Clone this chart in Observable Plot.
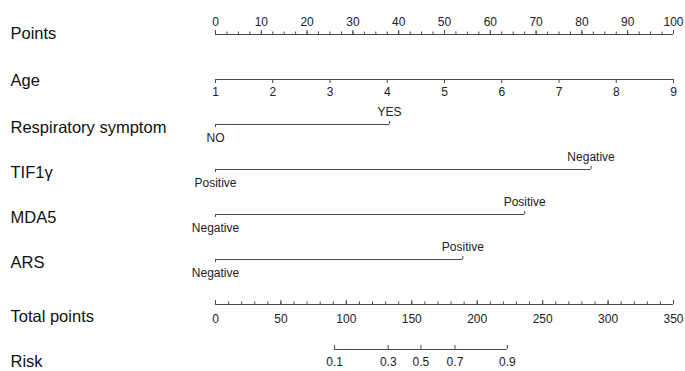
<!DOCTYPE html>
<html>
<head>
<meta charset="utf-8">
<script src="https://cdn.jsdelivr.net/npm/d3@7"></script>
<script src="https://cdn.jsdelivr.net/npm/@observablehq/plot@0.6"></script>
<style>
  html, body { margin: 0; padding: 0; background: #fff; }
  #chart { width: 685px; height: 371px; }
</style>
</head>
<body>
<div id="chart"></div>
<script>
// ---- data ----
const rows = ["Points", "Age", "Respiratory symptom", "TIF1γ", "MDA5", "ARS", "Total points", "Risk"];

const pointTicks = [0, 10, 20, 30, 40, 50, 60, 70, 80, 90, 100];
const pointMinorStep = 2.5;

const ageTicks = [1, 2, 3, 4, 5, 6, 7, 8, 9];
const ageDomain = [1, 9];

const factorNames = ["Respiratory symptom", "TIF1γ", "MDA5", "ARS"];
const lowLevels = ["NO", "Positive", "Negative", "Negative"];
const highLevels = ["YES", "Negative", "Positive", "Positive"];
const highPoints = [38, 82, 67.5, 54];

const totalTicks = [0, 50, 100, 150, 200, 250, 300, 350];
const totalMinorStep = 10;
const totalDomain = [0, 350];

const riskTicks = [0.1, 0.3, 0.5, 0.7, 0.9];
const riskTotalPoints = [91, 132, 157, 183, 223];

// ---- sub-scales onto the Points axis ----
const ageToPts = d3.scaleLinear().domain(ageDomain).range([0, 100]);
const totToPts = d3.scaleLinear().domain(totalDomain).range([0, 100]);

const lineColor = "#4a4a4a";
const textColor = "#222";
const font = "Liberation Sans, Arial, Helvetica, sans-serif";

// Points axis
const ptsLine = [{row: "Points", a: 0, b: 100}];
const ptsMinor = d3.range(0, 100 + 1e-9, pointMinorStep).map(v => ({row: "Points", x: v}));
const ptsMajor = pointTicks.map(v => ({row: "Points", x: v, label: String(v)}));

// Age axis
const ageLine = [{row: "Age", a: ageToPts(ageDomain[0]), b: ageToPts(ageDomain[1])}];
const ageMajor = ageTicks.map(v => ({row: "Age", x: ageToPts(v), label: String(v)}));

// factor rows
const facLines = factorNames.map((f, i) => ({row: f, a: 0, b: highPoints[i]}));
const facLow = factorNames.map((f, i) => ({row: f, x: 0, label: lowLevels[i]}));
const facHigh = factorNames.map((f, i) => ({row: f, x: highPoints[i], label: highLevels[i]}));

// Total points axis
const totLine = [{row: "Total points", a: 0, b: 100}];
const totMinor = d3.range(totalDomain[0], totalDomain[1] + 1e-9, totalMinorStep).map(v => ({row: "Total points", x: totToPts(v)}));
const totMajor = totalTicks.map(v => ({row: "Total points", x: totToPts(v), label: String(v)}));

// Risk axis
const riskLine = [{row: "Risk", a: totToPts(riskTotalPoints[0]), b: totToPts(riskTotalPoints[riskTotalPoints.length - 1])}];
const riskMajor = riskTicks.map((r, i) => ({row: "Risk", x: totToPts(riskTotalPoints[i]), label: String(r)}));

const labelDy = {"Points": -1, "Age": 1, "Respiratory symptom": 3, "TIF1γ": 3, "MDA5": 3, "ARS": 3, "Total points": 12, "Risk": 12};

const allLines = [...ptsLine, ...ageLine, ...facLines, ...totLine, ...riskLine];

const chart = Plot.plot({
  width: 685,
  height: 371,
  marginLeft: 215,
  marginRight: 12,
  marginTop: 32,
  marginBottom: 20,
  style: {fontFamily: font, background: "#fff"},
  x: {domain: [0, 100], axis: null},
  y: {type: "band", domain: rows, paddingInner: 1, paddingOuter: 0, align: 0.5, axis: null},
  marks: [
    // row labels
    ...rows.map(r => Plot.text([r], {
      y: d => d, text: d => d, frameAnchor: "left", dx: -205, dy: labelDy[r],
      textAnchor: "start", fontSize: 16.5, fill: "#111"
    })),
    // axis lines
    Plot.ruleY(allLines, {y: "row", x1: "a", x2: "b", stroke: lineColor, strokeWidth: 1.1}),
    // Points axis ticks (upward)
    Plot.tickX(ptsMinor, {x: "x", y: "row", insetTop: -2.5, insetBottom: 0, stroke: lineColor}),
    Plot.tickX(ptsMajor, {x: "x", y: "row", insetTop: -4, insetBottom: 0, stroke: lineColor}),
    Plot.text(ptsMajor, {x: "x", y: "row", text: "label", dy: -12, fontSize: 12, fill: textColor}),
    // Age ticks (downward)
    Plot.tickX(ageMajor, {x: "x", y: "row", insetTop: 0, insetBottom: -4, stroke: lineColor}),
    Plot.text(ageMajor, {x: "x", y: "row", text: "label", dy: 13, fontSize: 12, fill: textColor}),
    // factor rows
    Plot.tickX(facLow, {x: "x", y: "row", insetTop: 0, insetBottom: -3, stroke: lineColor}),
    Plot.tickX(facHigh, {x: "x", y: "row", insetTop: -3, insetBottom: 0, stroke: lineColor}),
    Plot.text(facLow, {x: "x", y: "row", text: "label", dy: 14, fontSize: 12, fill: textColor}),
    Plot.text(facHigh, {x: "x", y: "row", text: "label", dy: -12, fontSize: 12, fill: textColor}),
    // Total points ticks (upward), labels below
    Plot.tickX(totMinor, {x: "x", y: "row", insetTop: -2.5, insetBottom: 0, stroke: lineColor}),
    Plot.tickX(totMajor, {x: "x", y: "row", insetTop: -4, insetBottom: 0, stroke: lineColor}),
    Plot.text(totMajor, {x: "x", y: "row", text: "label", dy: 15, fontSize: 12, fill: textColor}),
    // Risk ticks (upward), labels below
    Plot.tickX(riskMajor, {x: "x", y: "row", insetTop: -4, insetBottom: 0, stroke: lineColor}),
    Plot.text(riskMajor, {x: "x", y: "row", text: "label", dy: 13, fontSize: 12, fill: textColor})
  ]
});

document.getElementById("chart").appendChild(chart);
</script>
</body>
</html>
